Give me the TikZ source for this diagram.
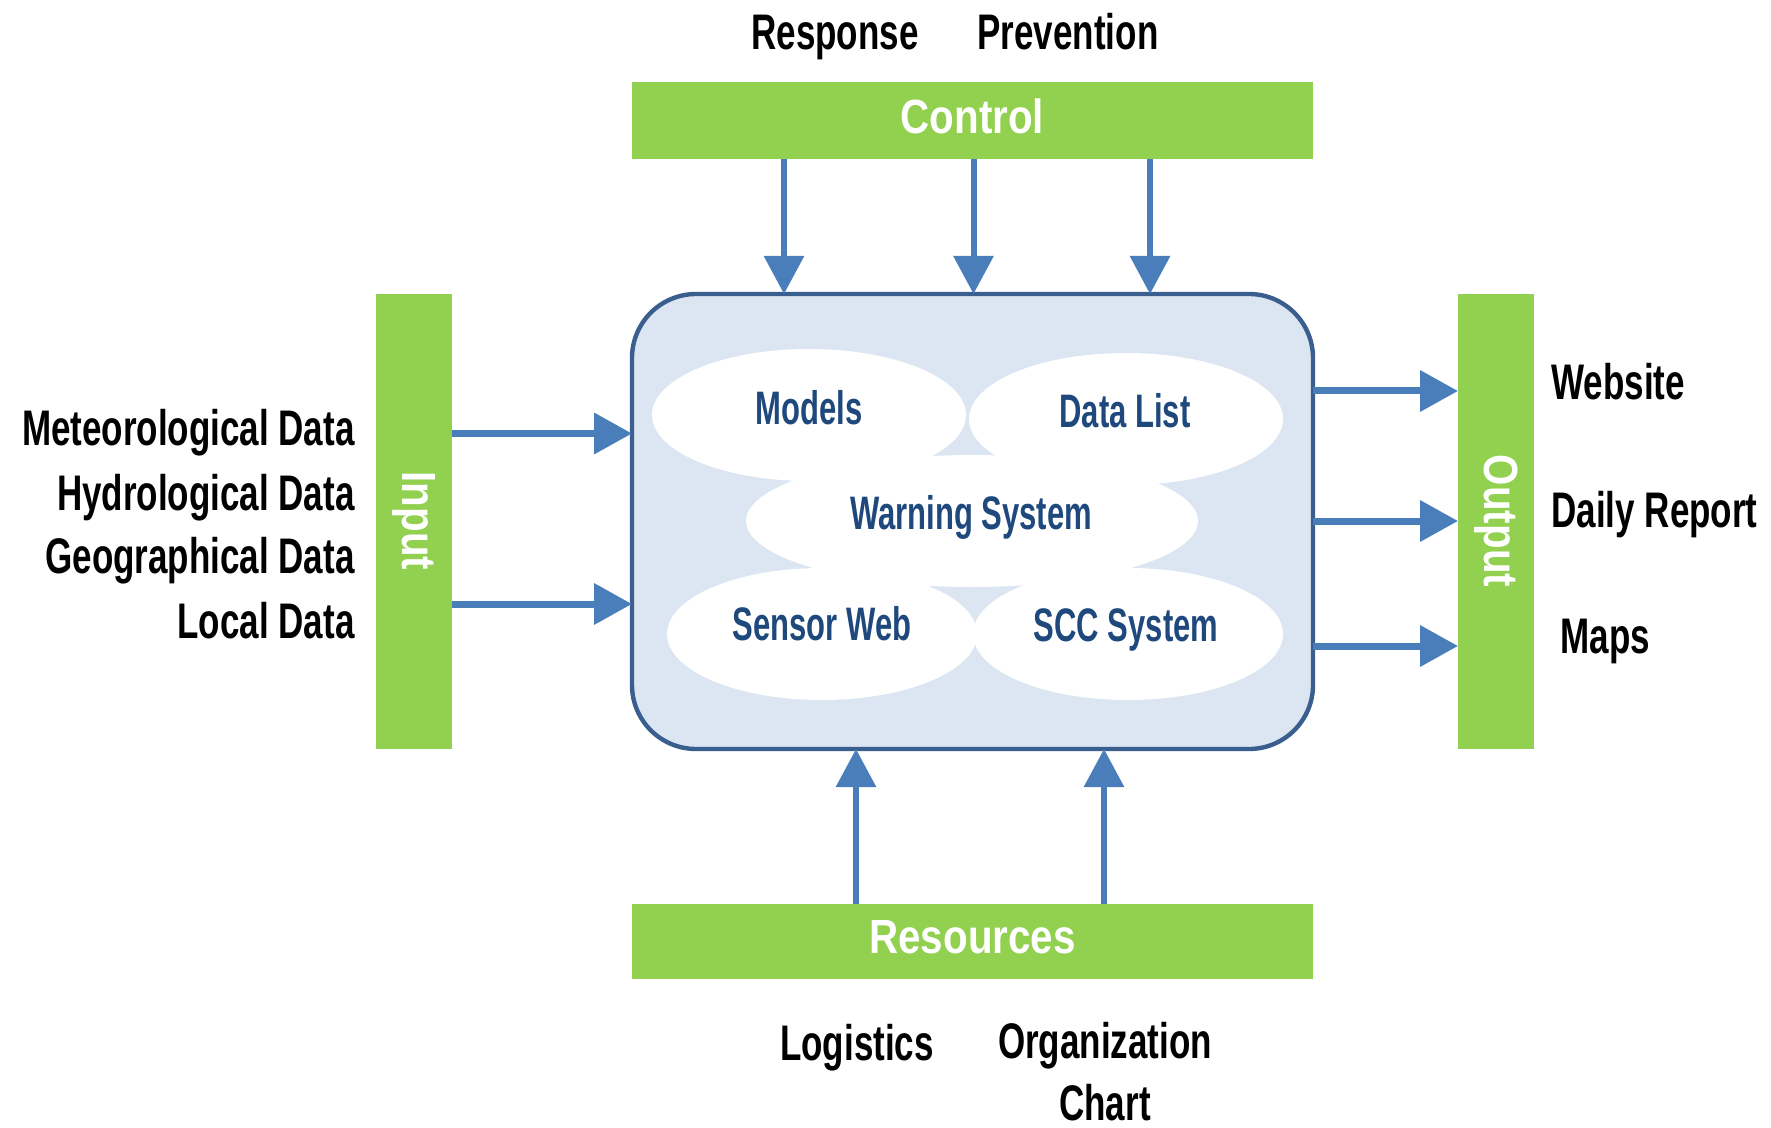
\documentclass[tikz,border=0pt]{standalone}
\usepackage{fontspec}
\setmainfont{Liberation Sans}
\newfontfamily\blkfont{Liberation Sans}[FakeStretch=0.70]
\newfontfamily\blufont{Liberation Sans}[FakeStretch=0.66]
\newfontfamily\whtfont{Liberation Sans}[FakeStretch=0.84]
\usetikzlibrary{arrows.meta,shapes.geometric}
\definecolor{bargreen}{HTML}{92D050}
\definecolor{arrowblue}{HTML}{4A7EBB}
\definecolor{boxborder}{HTML}{3A5F8F}
\definecolor{boxfill}{HTML}{DCE6F2}
\definecolor{blobtext}{HTML}{1F497D}
\begin{document}
\begin{tikzpicture}[x=0.5pt,y=-0.5pt,
  lbl/.style={inner sep=0pt,font=\blkfont\bfseries\fontsize{25}{30}\selectfont,text=black},
  bloblbl/.style={inner sep=0pt,font=\blufont\bfseries\fontsize{23.5}{28}\selectfont,text=blobtext},
  barlbl/.style={inner sep=0pt,font=\whtfont\bfseries\fontsize{24}{28}\selectfont,text=white},
  bar/.style={fill=bargreen,draw=none,inner sep=0pt,outer sep=0pt},
  blob/.style={ellipse,fill=white,draw=none,inner sep=0pt,outer sep=0pt},
  varr/.style={draw=arrowblue,line width=3pt,-{Triangle[length=19pt,width=19.5pt]}},
  harr/.style={draw=arrowblue,line width=3.5pt,-{Triangle[length=19pt,width=20pt]}}]
\useasboundingbox (0,0) rectangle (1771,1128);

% main system box
\node[draw=boxborder,line width=2.2pt,fill=boxfill,rounded corners=32pt,
      minimum width=340.5pt,minimum height=227.5pt,inner sep=0pt,outer sep=0pt]
      (sys) at (972.5,521.5) {};

% ellipses
\node[blob,minimum width=157pt,minimum height=66pt] (models) at (809,415) {};
\node[blob,minimum width=157pt,minimum height=66pt] (datalist) at (1126,419) {};
\node[blob,minimum width=226pt,minimum height=66pt] (warning) at (972,521) {};
\node[blob,minimum width=155pt,minimum height=66pt] (sensor) at (822,634) {};
\node[blob,minimum width=155pt,minimum height=66pt] (scc) at (1128,634) {};
\node[bloblbl,anchor=base] (tmodels) at (809,424) {Models};
\node[bloblbl,anchor=base] (tdatalist) at (1125,427) {Data List};
\node[bloblbl,anchor=base] (twarning) at (971,529) {Warning System};
\node[bloblbl,anchor=base] (tsensor) at (822,640) {Sensor Web};
\node[bloblbl,anchor=base] (tscc) at (1126,641) {SCC System};

% bars
\node[bar,minimum width=340.5pt,minimum height=38.5pt] (ctrl) at (972.5,120.5) {};
\node[barlbl] (tctrl) at (972.5,116) {Control};
\node[bar,minimum width=340.5pt,minimum height=37.5pt] (res) at (972.5,941.5) {};
\node[barlbl] (tres) at (972.5,937) {Resources};
\node[bar,minimum width=38pt,minimum height=227.5pt] (inp) at (414,521.5) {};
\node[barlbl,rotate=-90] (tinp) at (414,521) {Input};
\node[bar,minimum width=38pt,minimum height=227.5pt] (outp) at (1496,521.5) {};
\node[barlbl,rotate=-90] (toutp) at (1496,521) {Output};

% control arrows
\draw[varr] ([xshift=-94.25pt]ctrl.south) -- ([xshift=-94.25pt]sys.north);
\draw[varr] ([xshift=0.5pt]ctrl.south) -- ([xshift=0.5pt]sys.north);
\draw[varr] ([xshift=88.75pt]ctrl.south) -- ([xshift=88.75pt]sys.north);

% resource arrows
\draw[varr] ([xshift=-58.25pt]res.north) -- ([xshift=-58.25pt]sys.south);
\draw[varr] ([xshift=65.75pt]res.north) -- ([xshift=65.75pt]sys.south);

% input arrows
\draw[harr] ([yshift=44pt]inp.east) -- ([yshift=44pt]sys.west);
\draw[harr] ([yshift=-41.25pt]inp.east) -- ([yshift=-41.25pt]sys.west);

% output arrows
\draw[harr] ([yshift=65.25pt]sys.east) -- ([yshift=65.25pt]outp.west);
\draw[harr] ([yshift=0.25pt]sys.east) -- ([yshift=0.25pt]outp.west);
\draw[harr] ([yshift=-62.25pt]sys.east) -- ([yshift=-62.25pt]outp.west);

% labels
\node[lbl,anchor=base] (response) at (835,50) {Response};
\node[lbl,anchor=base] (prevention) at (1068,50) {Prevention};
\node[lbl,anchor=base east] (meteo) at (355,445) {Meteorological Data};
\node[lbl,anchor=base east] (hydro) at (355,510) {Hydrological Data};
\node[lbl,anchor=base east] (geo) at (355,573) {Geographical Data};
\node[lbl,anchor=base east] (local) at (355,638) {Local Data};
\node[lbl,anchor=base west] (website) at (1551,400) {Website};
\node[lbl,anchor=base west] (daily) at (1551,527) {Daily Report};
\node[lbl,anchor=base west] (maps) at (1560,653) {Maps};
\node[lbl,anchor=base] (logistics) at (857,1060) {Logistics};
\node[lbl,anchor=base] (org) at (1105,1058) {Organization};
\node[lbl,anchor=base] (chart) at (1105,1120) {Chart};
\end{tikzpicture}
\end{document}
